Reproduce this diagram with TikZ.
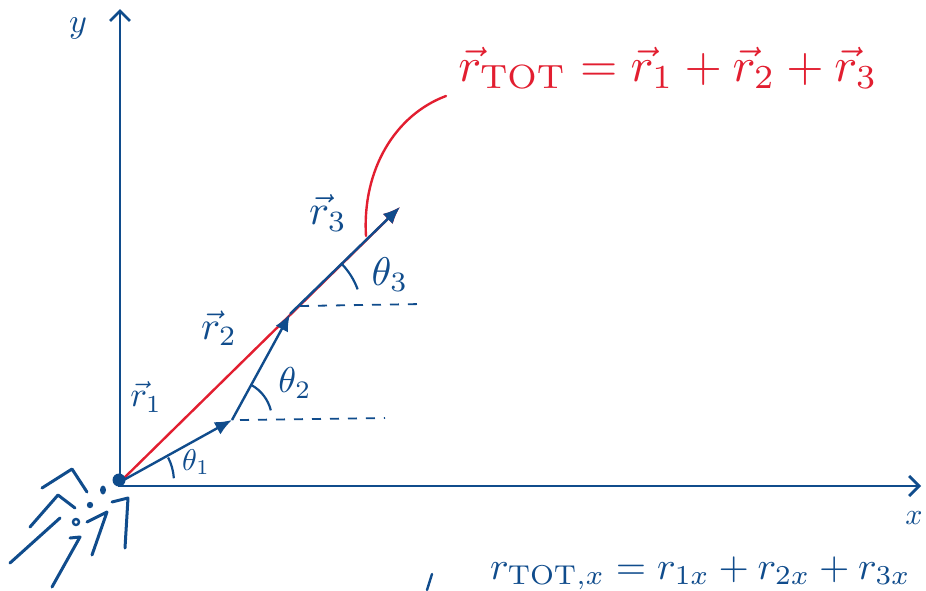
\documentclass[tikz,border=0pt]{standalone}
\usepackage{graphicx}
\usetikzlibrary{arrows.meta}
\definecolor{hb}{RGB}{16,76,140}
\definecolor{hr}{RGB}{226,30,48}
\newcommand{\myscm}[2]{\scalebox{#1}{$#2$}}
\tikzset{
  ax/.style={hb, line width=2.8pt, -{Straight Barb[length=10pt,width=20pt]}},
  vecb/.style={hb, line width=2.4pt, -{Latex[length=17pt,width=14pt]}},
  vecr/.style={hr, line width=2.4pt, -{Latex[length=17pt,width=14pt]}},
  lbl/.style={text=hb, inner sep=0pt},
  dsh/.style={hb, line width=1.8pt, dash pattern=on 9pt off 9pt},
  ang/.style={hb, line width=2.2pt},
  leg/.style={hb, line width=3pt, line cap=round, line join=round},
}
\begin{document}
\begin{tikzpicture}[x=1pt,y=-1pt]
\useasboundingbox (0,0) rectangle (926,590);
\begin{scope}
\clip (0,0) rectangle (926,590);
% points
\coordinate (O) at (120,482);
\coordinate (P1) at (232,420);
\coordinate (P2) at (290,314);
\coordinate (P3) at (400,207);
\coordinate (Ytip) at (120,9);
\coordinate (Xtip) at (921,486);
\coordinate (Yb) at (120,486);
\coordinate (Xb) at (118,486);
% axes
\draw[ax] (Yb) -- (Ytip);
\draw[ax] (Xb) -- (Xtip);
\node[lbl, anchor=base] (ylab) at (78,32) {\myscm{3.4}{y}};
\node[lbl] (xlab) at (914,518) {\myscm{3}{x}};
% resultant
\draw[vecr] (O) -- (P3);
% vectors
\draw[vecb] (O) -- (P1);
\draw[vecb] (P1) -- (P2);
\draw[vecb] (P2) -- (P3);
\fill[hb] (O) ++(-1,-2) circle[radius=6.5];
% dashed references
\coordinate (D1) at (385,418);
\coordinate (D2a) at (300,306);
\coordinate (D2b) at (422,304);
\draw[dsh] ([xshift=8]P1) -- (D1);
\draw[dsh] (D2a) -- (D2b);
% angle arcs
\draw[ang] ([shift={(-4:54)}]O) arc[start angle=-4,end angle=-27,radius=54];
\draw[ang] ([shift={(-14:40)}]P1) arc[start angle=-14,end angle=-60,radius=40];
\draw[ang] ([shift={(-20:72)}]P2) arc[start angle=-20,end angle=-44,radius=72];
% labels
\node[lbl] (r1) at (146,397) {\myscm{3.5}{\vec r_1}};
\node[lbl] (r2) at (219,328) {\myscm{4}{\vec r_2}};
\node[lbl] (r3) at (328,213) {\myscm{4.2}{\vec r_3}};
\node[lbl] (t1) at (196,462) {\myscm{3}{\theta_1}};
\node[lbl] (t2) at (295,383) {\myscm{3.6}{\theta_2}};
\node[lbl] (t3) at (390,275) {\myscm{4}{\theta_3}};
% red formula and pointer
\node[text=hr, inner sep=0pt] (F) at (668,68)
  {\myscm{4.8}{\vec r_{\mathrm{TOT}} = \vec r_1 + \vec r_2 + \vec r_3}};
\coordinate (c0) at (446,96);
\coordinate (c1) at (366,236);
\draw[hr, line width=2.4pt, line cap=round] (c0) .. controls (395,115) and (362,170) .. (c1);
% bottom formula
\node[text=hb, inner sep=0pt, anchor=base west] (G) at (490,579)
  {\myscm{3.9}{r_{\mathrm{TOT},x} = r_{1x} + r_{2x} + r_{3x}}};
\coordinate (s0) at (427,590);
\coordinate (s1) at (432,574);
\draw[leg, line width=2.4pt] (s0) -- (s1);
% critter at origin
\fill[hb] (103,490) ellipse[x radius=3,y radius=4.5];
\fill[hb] (90,505) circle[radius=3.2];
\draw[hb, line width=2.4pt] (76,522) circle[radius=3];
\draw[leg] (42,488) -- (72,469) -- (87,492);
\draw[leg] (30,527) -- (58,495) -- (75,508);
\draw[leg] (10,563) -- (60,518);
\draw[leg] (112,502) -- (128,498) -- (125,548);
\draw[leg] (87,522) -- (107,512) -- (92,555);
\draw[leg] (70,538) -- (80,537) -- (52,587);
\end{scope}
\end{tikzpicture}
\end{document}
